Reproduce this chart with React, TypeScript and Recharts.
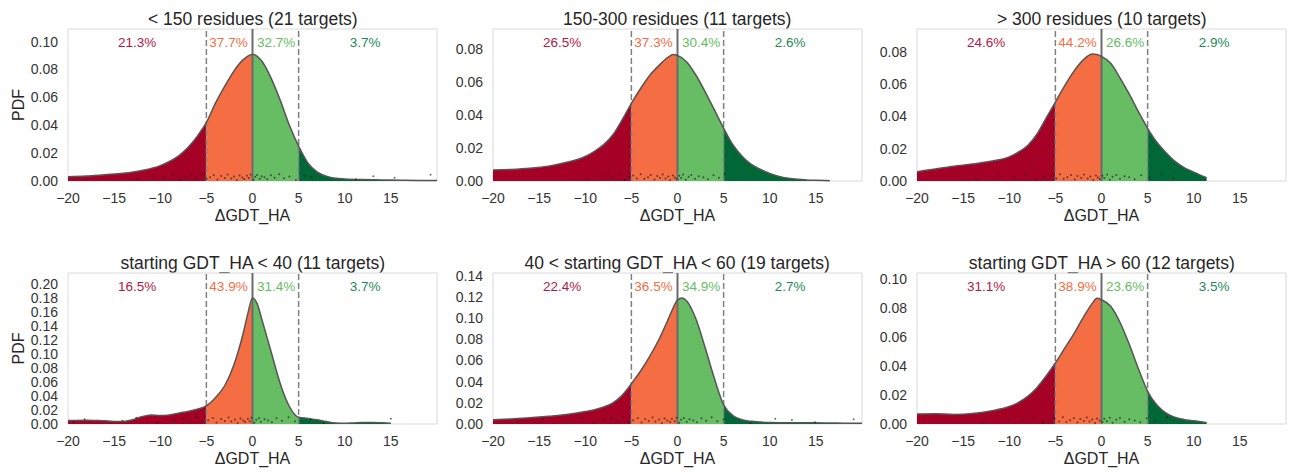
import React from "react";
import {
  Area,
  ComposedChart,
  Line,
  ReferenceArea,
  ReferenceDot,
  ReferenceLine,
  Scatter,
  XAxis,
  YAxis,
} from "recharts";

const TITLES = [
  "< 150 residues (21 targets)",
  "150-300 residues (11 targets)",
  "> 300 residues (10 targets)",
  "starting GDT_HA < 40 (11 targets)",
  "40 < starting GDT_HA < 60 (19 targets)",
  "starting GDT_HA > 60 (12 targets)",
];

const PCTS = [
  ["21.3%", "37.7%", "32.7%", "3.7%"],
  ["26.5%", "37.3%", "30.4%", "2.6%"],
  ["24.6%", "44.2%", "26.6%", "2.9%"],
  ["16.5%", "43.9%", "31.4%", "3.7%"],
  ["22.4%", "36.5%", "34.9%", "2.7%"],
  ["31.1%", "38.9%", "23.6%", "3.5%"],
];
const PCT_X = [-12.5, -2.6, 2.55, 12.2];

const X_TICKS = [-20, -15, -10, -5, 0, 5, 10, 15];
const Y_TICKS = [
  [0, 0.02, 0.04, 0.06, 0.08, 0.1],
  [0, 0.02, 0.04, 0.06, 0.08],
  [0, 0.02, 0.04, 0.06, 0.08],
  [0, 0.02, 0.04, 0.06, 0.08, 0.1, 0.12, 0.14, 0.16, 0.18, 0.2],
  [0, 0.02, 0.04, 0.06, 0.08, 0.1, 0.12, 0.14],
  [0, 0.02, 0.04, 0.06, 0.08, 0.1],
];
const Y_TOP = [0.109, 0.092, 0.0943, 0.2157, 0.1425, 0.1039];

// density curves (x, pdf)
const X1 = [-20, -18, -16, -14, -12, -10, -9, -8, -7, -6, -5, -4, -3, -2, -1, 0, 1, 2, 3, 4, 5, 6, 7, 8, 9, 10, 12, 14, 16, 18, 20];
const Y1 = [0.003, 0.0035, 0.0045, 0.0055, 0.0075, 0.011, 0.014, 0.018, 0.024, 0.032, 0.042, 0.056, 0.068, 0.079, 0.087, 0.0908, 0.086, 0.074, 0.058, 0.04, 0.025, 0.013, 0.0065, 0.0035, 0.002, 0.0015, 0.001, 0.0008, 0.0006, 0.0004, 0.0003];

const X2 = [-20, -18, -16, -14, -12, -10, -9, -8, -7, -6, -5, -4, -3, -2, -1, -0.5, 0, 1, 2, 3, 4, 5, 6, 7, 8, 9, 10, 11, 12, 13, 14, 15, 16.5];
const Y2 = [0.0067, 0.007, 0.0077, 0.009, 0.0113, 0.0148, 0.018, 0.022, 0.028, 0.037, 0.047, 0.056, 0.064, 0.07, 0.075, 0.0765, 0.076, 0.072, 0.064, 0.054, 0.043, 0.032, 0.022, 0.015, 0.01, 0.007, 0.0045, 0.0028, 0.0017, 0.001, 0.0006, 0.0004, 0.0002];

const X3 = [-20, -18, -16, -14, -12, -10, -9, -8, -7, -6, -5, -4, -3, -2, -1, -0.5, 0, 1, 2, 3, 4, 5, 6, 7, 8, 9, 10, 11.4];
const Y3 = [0.0058, 0.0075, 0.0092, 0.0105, 0.0122, 0.015, 0.018, 0.022, 0.029, 0.039, 0.049, 0.059, 0.068, 0.075, 0.0788, 0.0785, 0.0773, 0.073, 0.064, 0.054, 0.043, 0.0327, 0.024, 0.0175, 0.012, 0.0082, 0.0055, 0.002];

const X4 = [-20, -18, -16, -14, -13, -12, -11, -10, -9, -8, -7, -6, -5, -4, -3, -2, -1, -0.5, 0, 0.5, 1, 2, 3, 4, 5, 6, 7, 8, 9, 10, 11, 12, 13, 14, 15];
const Y4 = [0.005, 0.0055, 0.0045, 0.0035, 0.006, 0.0105, 0.013, 0.012, 0.013, 0.0155, 0.018, 0.021, 0.026, 0.038, 0.055, 0.085, 0.13, 0.158, 0.18, 0.172, 0.15, 0.104, 0.058, 0.025, 0.0095, 0.008, 0.006, 0.0035, 0.0015, 0.001, 0.0015, 0.002, 0.0022, 0.0018, 0.0012];

const X5 = [-20, -18, -16, -14, -12, -10, -9, -8, -7, -6, -5, -4, -3, -2, -1, -0.5, 0, 0.5, 1, 2, 3, 4, 5, 6, 7, 8, 9, 10, 12, 14, 16, 18, 20];
const Y5 = [0.004, 0.0048, 0.0058, 0.0072, 0.009, 0.0118, 0.0135, 0.016, 0.02, 0.027, 0.038, 0.05, 0.064, 0.08, 0.099, 0.109, 0.117, 0.119, 0.116, 0.099, 0.072, 0.043, 0.018, 0.008, 0.004, 0.0025, 0.0018, 0.0014, 0.0012, 0.0011, 0.001, 0.0008, 0.0006];

const X6 = [-20, -18, -16, -14, -12, -10, -9, -8, -7, -6, -5, -4, -3, -2, -1, -0.5, 0, 1, 2, 3, 4, 5, 6, 7, 8, 9, 10, 11.4];
const Y6 = [0.0068, 0.007, 0.0066, 0.0072, 0.009, 0.012, 0.0148, 0.019, 0.025, 0.033, 0.042, 0.052, 0.062, 0.073, 0.083, 0.0865, 0.0855, 0.081, 0.07, 0.055, 0.038, 0.0225, 0.013, 0.0075, 0.0045, 0.003, 0.0022, 0.0009];

const CURVES = [
  [X1, Y1],
  [X2, Y2],
  [X3, Y3],
  [X4, Y4],
  [X5, Y5],
  [X6, Y6],
];

// individual observations shown as a jittered strip along the bottom
const RUG1 = [-12.4, -10.8, -9.6, -8.7, -7.9, -7.2, -6.6, -6.1, -5.5, -5.0, -4.6, -4.2, -3.8, -3.4, -3.0, -2.7, -2.3, -2.0, -1.7, -1.4, -1.1, -0.9, -0.6, -0.4, -0.2, 0.1, 0.3, 0.5, 0.8, 1.0, 1.3, 1.6, 2.0, 2.4, 2.9, 3.4, 4.0, 4.7, 5.6, 6.4, 11.2, 13.1, 15.4, 19.3];
const RUG2 = [-9.8, -8.1, -7.0, -6.3, -5.7, -5.2, -4.8, -4.4, -4.0, -3.6, -3.2, -2.9, -2.5, -2.2, -1.9, -1.6, -1.3, -1.0, -0.8, -0.5, -0.3, -0.1, 0.2, 0.4, 0.6, 0.9, 1.2, 1.5, 1.9, 2.3, 2.8, 3.3, 3.9, 4.5, 5.1];
const RUG3 = [-13.6, -11.2, -9.4, -8.2, -7.1, -6.2, -5.4, -4.9, -4.5, -4.1, -3.7, -3.3, -2.9, -2.6, -2.2, -1.9, -1.5, -1.2, -0.9, -0.6, -0.4, -0.2, 0.1, 0.3, 0.6, 0.9, 1.2, 1.6, 2.0, 2.5, 3.0, 3.6, 4.3, 5.2, 6.5, 7.8];
const RUG4 = [-19.4, -18.2, -14.1, -12.6, -10.3, -8.4, -7.5, -6.8, -6.1, -5.5, -4.8, -4.3, -3.9, -3.4, -3.0, -2.6, -2.3, -1.9, -1.6, -1.3, -1.0, -0.8, -0.5, -0.3, -0.1, 0.2, 0.4, 0.7, 0.9, 1.3, 1.7, 2.1, 2.6, 3.2, 3.9, 4.6, 6.3, 7.7, 15.0];
const RUG5 = [-17.3, -14.6, -12.2, -10.4, -9.1, -8.0, -7.2, -6.5, -5.9, -5.3, -4.8, -4.3, -3.9, -3.5, -3.1, -2.7, -2.4, -2.0, -1.7, -1.4, -1.1, -0.8, -0.6, -0.3, -0.1, 0.2, 0.4, 0.7, 1.0, 1.3, 1.7, 2.1, 2.6, 3.1, 3.7, 4.3, 5.0, 7.9, 10.6, 12.4, 14.9, 19.1];
const RUG6 = [-12.8, -10.1, -8.6, -7.4, -6.4, -5.6, -5.1, -4.6, -4.2, -3.8, -3.4, -3.0, -2.6, -2.3, -1.9, -1.6, -1.3, -1.0, -0.7, -0.5, -0.2, 0.1, 0.3, 0.6, 0.9, 1.2, 1.6, 2.0, 2.5, 3.0, 3.6, 4.2, 4.9, 5.8, 7.1];
const RUGS = [RUG1, RUG2, RUG3, RUG4, RUG5, RUG6];
// vertical offsets of the strip points, as a fraction of the axis height
const JITTER = [0.012, 0.031, 0.022, 0.041, 0.008, 0.027, 0.036, 0.017, 0.045, 0.014, 0.025, 0.039, 0.01, 0.033, 0.02, 0.043, 0.016, 0.029, 0.006, 0.037, 0.023, 0.013, 0.035, 0.019, 0.042, 0.009, 0.028, 0.04, 0.015, 0.032, 0.024, 0.011, 0.038, 0.021, 0.044, 0.018, 0.03, 0.007, 0.034, 0.026];

const FILLS = ["#a50026", "#f46d43", "#66bd63", "#006837"];
const TEXT_COLORS = ["#b01a45", "#f46d43", "#66bd63", "#1f8a57"];

const PLOT_LEFT = [68.3, 492.7, 917.3];
const PLOT_TOP = [29.3, 273.3];
const PLOT_H = [152, 151];
const PLOT_W = 369;
const AXIS_W = 68;
const M_TOP = 4;

const fmtX = (v: number) => (v < 0 ? "\u2212" + Math.abs(v) : String(v));

const RugDot = (p: any) => <circle cx={p.cx} cy={p.cy} r={1} fill="#111" fillOpacity={0.6} />;

function Panel({ i }: { i: number }) {
  const col = i % 3;
  const row = Math.floor(i / 3);
  const [xs, ys] = CURVES[i];
  const top = Y_TOP[i];
  const rows = xs.map((x, k) => {
    const y = ys[k];
    return {
      x,
      y,
      r1: x <= -5 ? y : null,
      r2: x >= -5 && x <= 0 ? y : null,
      r3: x >= 0 && x <= 5 ? y : null,
      r4: x >= 5 ? y : null,
    };
  });
  const rug = RUGS[i].map((x, k) => ({ x, ry: JITTER[k % JITTER.length] * top }));
  const ph = PLOT_H[row];

  return (
    <div style={{ position: "absolute", left: PLOT_LEFT[col] - AXIS_W, top: PLOT_TOP[row] - M_TOP }}>
      <div
        style={{
          position: "absolute",
          left: AXIS_W,
          width: PLOT_W,
          top: -16,
          lineHeight: "20px",
          textAlign: "center",
          fontSize: 17.5,
          color: "#262626",
          whiteSpace: "nowrap",
        }}
      >
        {TITLES[i]}
      </div>
      <ComposedChart
        width={AXIS_W + PLOT_W + 4}
        height={M_TOP + ph + 40 + 10}
        data={rows}
        margin={{ top: M_TOP, right: 4, bottom: 10, left: 0 }}
      >
        <XAxis
          type="number"
          dataKey="x"
          domain={[-20, 20]}
          ticks={X_TICKS}
          tickFormatter={fmtX}
          interval={0}
          tickLine={false}
          axisLine={false}
          tickSize={0}
          tickMargin={12}
          height={40}
          tick={{ fill: "#333", fontSize: 14 }}
          label={{ value: "ΔGDT_HA", position: "insideBottom", offset: 0, fill: "#262626", fontSize: 16 }}
        />
        <YAxis
          type="number"
          domain={[0, top]}
          ticks={Y_TICKS[i]}
          tickFormatter={(v: number) => v.toFixed(2)}
          interval={0}
          tickLine={false}
          axisLine={false}
          tickSize={0}
          tickMargin={10}
          width={AXIS_W}
          tick={{ fill: "#333", fontSize: 14 }}
          label={
            col === 0
              ? { value: "PDF", angle: -90, position: "center", dx: -16, fill: "#262626", fontSize: 16 }
              : undefined
          }
        />
        <ReferenceArea x1={-20} x2={20} y1={0} y2={top} fill="none" stroke="#dadada" strokeWidth={1} />
        <ReferenceLine x={-5} stroke="#808080" strokeWidth={1.5} strokeDasharray="6 3" />
        <ReferenceLine x={5} stroke="#808080" strokeWidth={1.5} strokeDasharray="6 3" />
        {["r1", "r2", "r3", "r4"].map((k, j) => (
          <Area
            key={k}
            type="monotone"
            dataKey={k}
            fill={FILLS[j]}
            fillOpacity={1}
            stroke="none"
            baseValue={0}
            isAnimationActive={false}
          />
        ))}
        <ReferenceLine x={0} stroke="#6b6b6b" strokeWidth={2} />
        <Line
          type="monotone"
          dataKey="y"
          stroke="#555"
          strokeWidth={1.5}
          dot={false}
          activeDot={false}
          isAnimationActive={false}
        />
        <Scatter data={rug} dataKey="ry" shape={RugDot} isAnimationActive={false} />
        {PCTS[i].map((p, j) => (
          <ReferenceDot
            key={j}
            x={PCT_X[j]}
            y={top * 0.913}
            r={0}
            fill="none"
            stroke="none"
            label={{ value: p, position: "center", fill: TEXT_COLORS[j], fontSize: 13.5 }}
          />
        ))}
      </ComposedChart>
    </div>
  );
}

export default function App() {
  return (
    <div
      style={{
        position: "absolute",
        left: 0,
        top: 0,
        width: 1292,
        height: 472,
        background: "#fff",
        fontFamily: '"Liberation Sans", Arial, sans-serif',
      }}
    >
      {[0, 1, 2, 3, 4, 5].map((i) => (
        <Panel key={i} i={i} />
      ))}
    </div>
  );
}
